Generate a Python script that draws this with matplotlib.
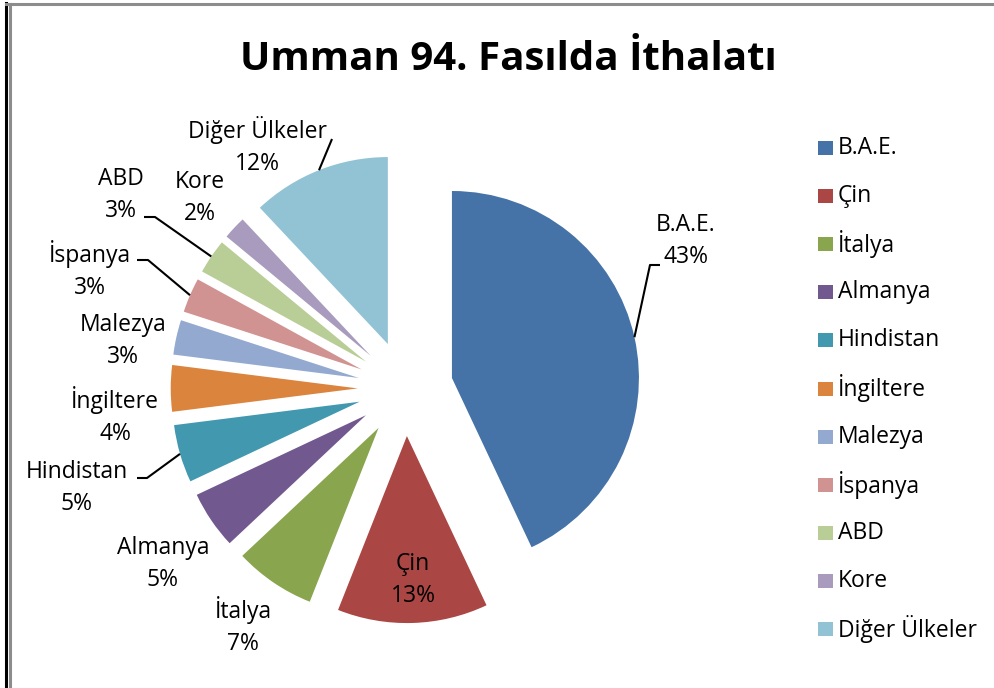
import numpy as np
import matplotlib
matplotlib.use("Agg")
import matplotlib.pyplot as plt
from matplotlib.lines import Line2D
from matplotlib.patches import Rectangle

plt.rcParams['font.family'] = ['Open Sans', 'DejaVu Sans']

# ---- data ----
categories = ["B.A.E.", "Çin", "İtalya", "Almanya", "Hindistan", "İngiltere",
              "Malezya", "İspanya", "ABD", "Kore", "Diğer Ülkeler"]
shares = [43, 13, 7, 5, 5, 4, 3, 3, 3, 2, 12]
colors = ["#4572A7", "#AA4643", "#89A54E", "#71588F", "#4198AF", "#DB843D",
          "#93A9CF", "#D19392", "#B9CD96", "#A99BBD", "#92C3D4"]
title = "Umman 94. Fasılda İthalatı"

# ---- layout (pixels of a 995x688 canvas) ----
W, H = 995, 688
CX, CY, R = 405.4, 388.4, 187.0   # pie centre and radius in pixels
EXPLODE = 0.255
FS = 16.5

def px(x, y):
    """pixel (from top-left) -> data units of the pie axes"""
    return (x - CX) / R, (CY - y) / R

label_pos_px = {
    "B.A.E.": (686, 241), "Çin": (413, 580), "İtalya": (243, 626),
    "Almanya": (163, 564), "Hindistan": (77, 488), "İngiltere": (115, 416),
    "Malezya": (123, 341), "İspanya": (90, 270), "ABD": (121, 195),
    "Kore": (200, 198), "Diğer Ülkeler": (257, 146),
}
leader_px = {
    "B.A.E.": [(660, 265), (650, 265)],
    "Hindistan": [(137, 478), (147, 478)],
    "İspanya": [(137, 260), (148, 260)],
    "ABD": [(144, 217), (155, 217)],
    "Diğer Ülkeler": [(332, 139)],
}

fig = plt.figure(figsize=(W / 100, H / 100), dpi=100)
fig.patch.set_facecolor("white")
ax = fig.add_axes([0, 0, 1, 1])

wedges, _ = ax.pie(shares, colors=colors, startangle=90, counterclock=False,
                   explode=[EXPLODE] * len(shares), radius=1.0,
                   wedgeprops=dict(linewidth=0))
ax.set_aspect("auto")
ax.set_xlim(-CX / R, (W - CX) / R)
ax.set_ylim((CY - H) / R, CY / R)
ax.axis("off")

total = sum(shares)
for w, name, v in zip(wedges, categories, shares):
    lx, ly = px(*label_pos_px[name])
    ax.text(lx, ly, f"{name}\n{round(100 * v / total)}%", ha="center", va="center",
            fontsize=FS, color="black", linespacing=1.42)
    if name in leader_px:
        mid = np.deg2rad((w.theta1 + w.theta2) / 2)
        ex = w.center[0] + w.r * np.cos(mid)
        ey = w.center[1] + w.r * np.sin(mid)
        pts = [px(*p) for p in leader_px[name]] + [(ex, ey)]
        ax.plot([p[0] for p in pts], [p[1] for p in pts], color="black", lw=1.5,
                solid_capstyle="butt")

# title
fig.text(508 / W, 1 - 70 / H, title, ha="center", va="baseline",
         fontsize=29, fontweight="bold", color="black")

# legend
for i, (name, c) in enumerate(zip(categories, colors)):
    yc = 148 + i * 48.1
    fig.add_artist(Rectangle((818 / W, 1 - (yc + 7) / H), 15 / W, 14 / H,
                             transform=fig.transFigure, facecolor=c, edgecolor="none"))
    fig.text(838 / W, 1 - yc / H, name, ha="left", va="center",
             fontsize=FS, color="black")

# frame lines
fig.add_artist(Line2D([6 / W, 6 / W], [0, 1 - 3 / H], transform=fig.transFigure,
                      color="black", lw=2.2))
fig.add_artist(Line2D([10 / W, 10 / W], [0, 1 - 4 / H], transform=fig.transFigure,
                      color="#8c8c8c", lw=2.2))
fig.add_artist(Line2D([6 / W, 1], [1 - 4 / H, 1 - 4 / H], transform=fig.transFigure,
                      color="#8c8c8c", lw=2.2))

fig.savefig("out.png", dpi=100, facecolor="white")
